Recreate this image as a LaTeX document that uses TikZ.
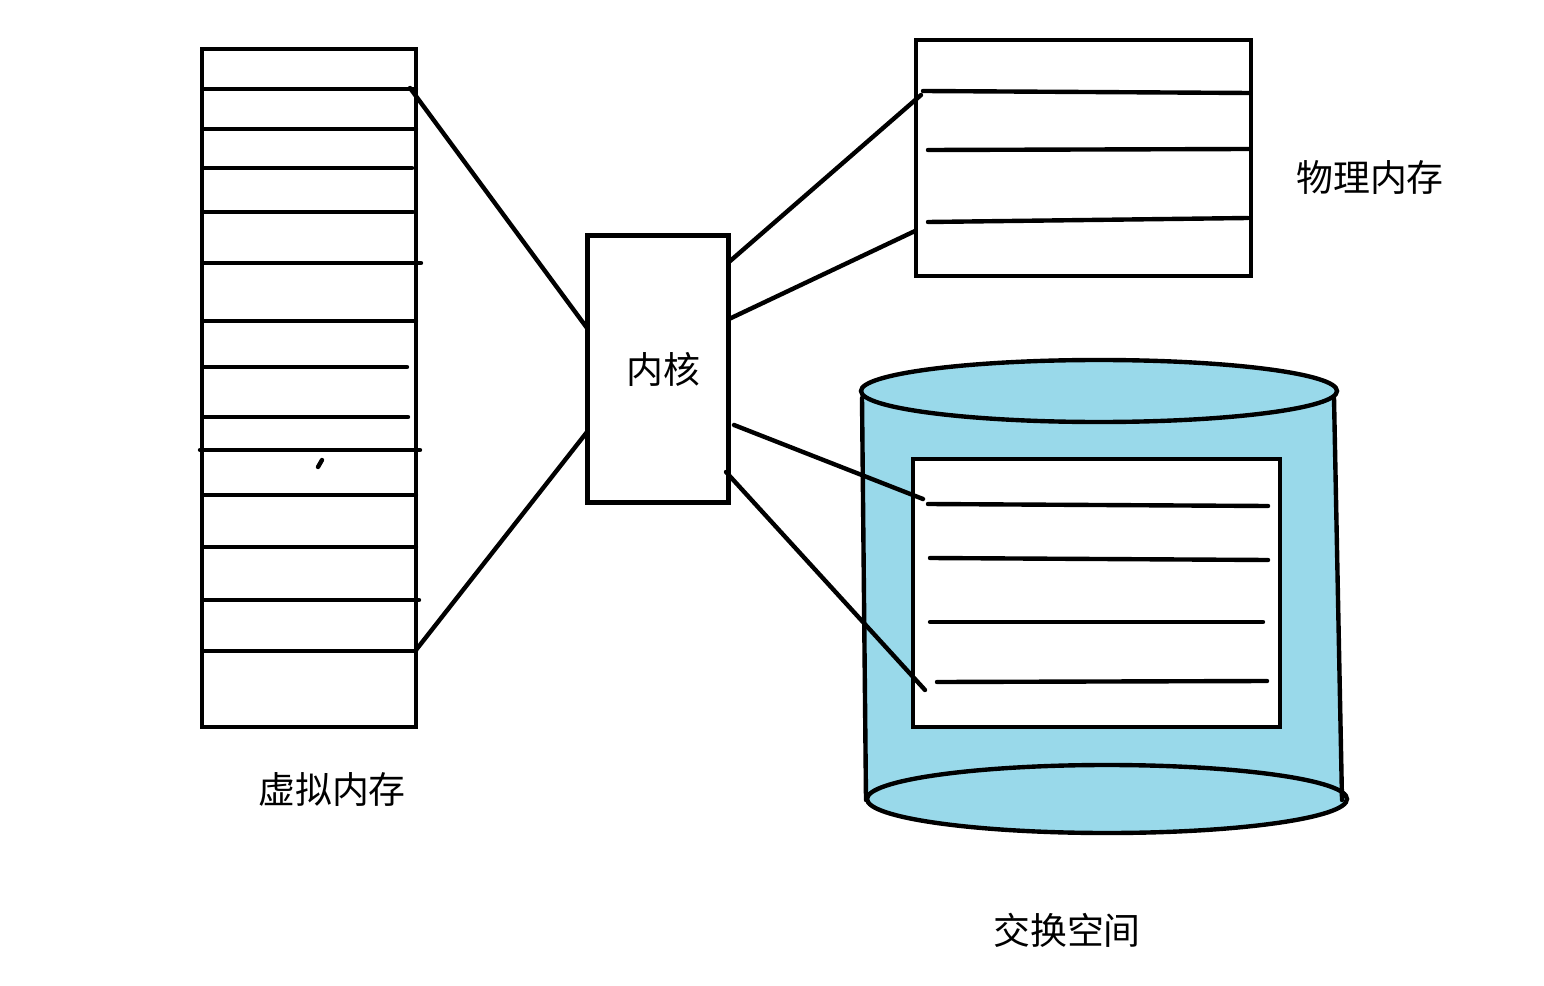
\documentclass[tikz,border=0pt]{standalone}
\usepackage{fontspec}
\setmainfont{Noto Sans CJK SC}
\definecolor{swapblue}{HTML}{99D9EA}

\begin{document}
\begin{tikzpicture}[x=0.02cm,y=-0.02cm,line width=2.5pt,line cap=round,
		memlabel/.style = {font=\fontsize{21}{25}\selectfont,inner sep=0pt},
		kernelbox/.style = {draw,fill=white,line cap=butt,minimum width=2.82cm,minimum height=5.34cm,inner sep=0pt,font=\fontsize{21}{25}\selectfont},
		pagebox/.style = {draw,fill=white,line cap=butt}]
		\useasboundingbox (0,0) rectangle (1544,986);
		% virtual memory
		\draw[pagebox] (202,49) rectangle (416,727);
		\foreach \y/\e in {89/416,129/416,168/412,212/413,263/421,321/416,367/407,417/408,495/416,547/416,600/419,651/416}
			\draw (203,\y) -- (\e,\y);
		\draw (200,450) -- (420,450);
		\draw (318,467) -- (322,460);
		\node[memlabel] (vmlabel) at (332,790) {虚拟内存};
		% physical memory
		\draw[pagebox] (916,40) rectangle (1251,276);
		\draw (923,91) -- (1250,93);
		\draw (928,150) -- (1249,149);
		\draw (928,222) -- (1248,218);
		\node[memlabel] (pmlabel) at (1370,178) {物理内存};
		% swap space
		\fill[swapblue] (862,392) -- (866,799) -- (1342,799) -- (1334,392) -- cycle;
		\filldraw[fill=swapblue] (1107,799) ellipse [x radius=240, y radius=34];
		\draw (862,398) -- (866,800);
		\draw (1334,398) -- (1342,800);
		\filldraw[fill=swapblue] (1099,391) ellipse [x radius=238, y radius=31];
		\draw[pagebox] (913,459) rectangle (1280,727);
		\draw (928,504) -- (1268,506);
		\draw (930,558) -- (1268,560);
		\draw (930,622) -- (1263,622);
		\draw (937,682) -- (1267,681);
		\node[memlabel] (swaplabel) at (1067,930) {交换空间};
		% kernel
		\node[kernelbox] (kernel) at (658,369) {\hspace*{6pt}内核};
		\coordinate (vmtop) at (410,88);
		\coordinate (vmbot) at (416,650);
		\coordinate (pmtop) at (921,95);
		\coordinate (pmbot) at (915,231);
		\coordinate (swtop) at (923,499);
		\coordinate (swbot) at (925,690);
		\coordinate (k1) at (587,328);
		\coordinate (k2) at (587,432);
		\coordinate (k3) at (729,262);
		\coordinate (k4) at (729,319);
		\coordinate (k5) at (734,425);
		\coordinate (k6) at (726,472);
		\draw (k1) -- (vmtop);
		\draw (k2) -- (vmbot);
		\draw (k3) -- (pmtop);
		\draw (k4) -- (pmbot);
		\draw (k5) -- (swtop);
		\draw (k6) -- (swbot);
\end{tikzpicture}
\end{document}
